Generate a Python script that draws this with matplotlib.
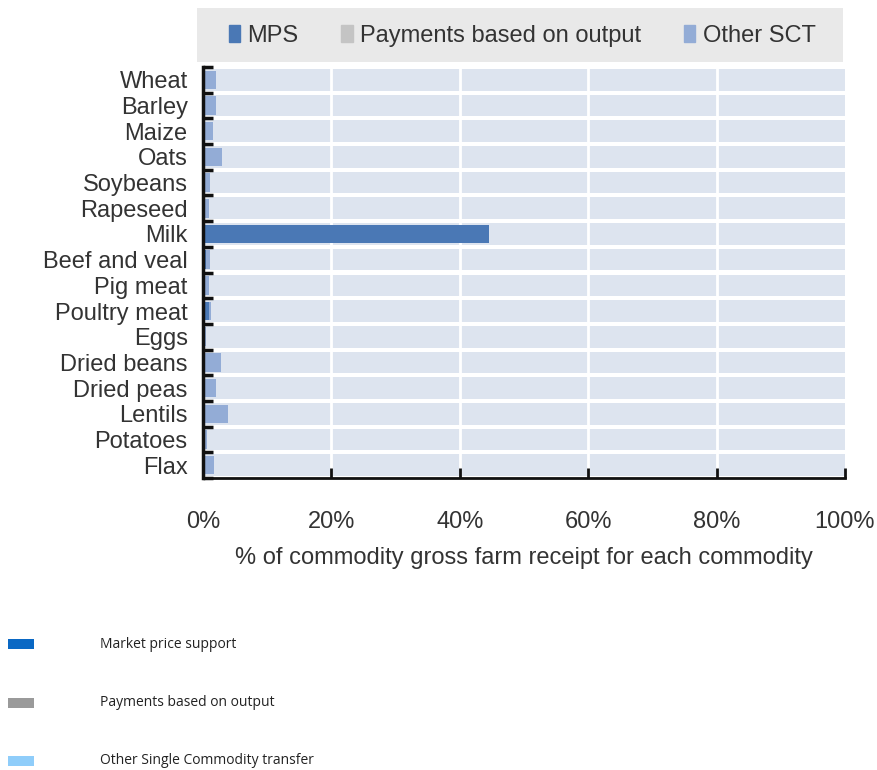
import numpy as np
import matplotlib.pyplot as plt
from matplotlib.patches import Patch, Rectangle

# Commodities, top to bottom
commodities = ['Wheat', 'Barley', 'Maize', 'Oats', 'Soybeans', 'Rapeseed', 'Milk',
               'Beef and veal', 'Pig meat', 'Poultry meat', 'Eggs', 'Dried beans',
               'Dried peas', 'Lentils', 'Potatoes', 'Flax']

# % of commodity gross farm receipts
mps = [0.0, 0.0, 0.0, 0.0, 0.0, 0.0, 44.5, 0.4, 0.0, 1.0, 0.0, 0.0, 0.0, 0.0, 0.0, 0.0]
output_payments = [0.0] * 16
other_sct = [2.1, 2.1, 1.5, 3.0, 1.1, 0.9, 0.0, 0.7, 0.9, 0.2, 0.4, 2.8, 2.0, 3.9, 0.6, 1.7]

x_ticks = [0, 20, 40, 60, 80, 100]

plt.rcParams['font.family'] = ['Liberation Sans Narrow', 'Liberation Sans', 'DejaVu Sans']

c_mps = '#4a78b5'
c_out = '#c4c4c4'
c_sct = '#93acd6'
c_band = '#dde4ef'

fig = plt.figure(figsize=(8.78, 7.70), dpi=100)
ax = fig.add_axes([203 / 878, 1 - 478 / 770, (845 - 203) / 878, (478 - 67) / 770])
ax.set_axisbelow(False)

y = np.arange(len(commodities))
mps = np.array(mps)
output_payments = np.array(output_payments)
other_sct = np.array(other_sct)

# light background bands across the full width
ax.barh(y, 100, height=0.84, color=c_band, zorder=1)
for xt in x_ticks[1:-1]:
    ax.axvline(xt, color='white', lw=2, zorder=1.5)

ax.barh(y, mps, height=0.72, color=c_mps, zorder=2, label='MPS')
ax.barh(y, output_payments, left=mps, height=0.72, color=c_out, zorder=2,
        label='Payments based on output')
ax.barh(y, other_sct, left=mps + output_payments, height=0.72, color=c_sct, zorder=2,
        label='Other SCT')

ax.set_xlim(0, 100)
ax.set_ylim(len(commodities) - 0.5, -0.5)
ax.set_yticks(y)
ax.set_yticklabels(commodities, fontsize=17)
ax.set_yticks(np.arange(len(commodities) + 1) - 0.5, minor=True)
ax.tick_params(axis='y', which='major', length=0, pad=11)
ax.tick_params(axis='y', which='minor', direction='in', length=7, width=2.5, color='#111111')
ax.set_xticks(x_ticks)
ax.set_xticklabels([f'{t}%' for t in x_ticks], fontsize=17)
ax.tick_params(axis='x', direction='in', length=7, width=2, color='#111111', pad=24)
ax.set_xlabel('% of commodity gross farm receipt for each commodity', fontsize=17,
              labelpad=10, color='#333333')
for lab in ax.get_xticklabels() + ax.get_yticklabels():
    lab.set_color('#333333')

for side in ['top', 'right']:
    ax.spines[side].set_visible(False)
ax.spines['left'].set_linewidth(2.5)
ax.spines['bottom'].set_linewidth(2)
ax.spines['left'].set_color('#111111')
ax.spines['bottom'].set_color('#111111')

# legend box at top
fig.add_artist(Rectangle((197 / 878, 1 - 62 / 770), (843 - 197) / 878, 54 / 770,
                         transform=fig.transFigure, facecolor='#e9e9e9',
                         edgecolor='none', zorder=0))
leg = fig.legend(handles=[Patch(color=c_mps, label='MPS'),
                          Patch(color=c_out, label='Payments based on output'),
                          Patch(color=c_sct, label='Other SCT')],
                 loc='center', bbox_to_anchor=(522 / 878, 1 - 36 / 770), ncol=3,
                 frameon=False, fontsize=17, handlelength=0.5, handleheight=0.7,
                 handletextpad=0.3, columnspacing=1.8, labelcolor='#333333')

# second legend drawn beneath the chart
key_labels = ['Market price support', 'Payments based on output',
              'Other Single Commodity transfer']
key_colors = ['#0a68c4', '#9a9a9a', '#8fcdfa']
key_y = [644, 703, 761]
for lab, col, yy in zip(key_labels, key_colors, key_y):
    fig.add_artist(Rectangle((8 / 878, 1 - (yy + 5) / 770), 26 / 878, 10 / 770,
                             transform=fig.transFigure, facecolor=col, edgecolor='none'))
    fig.text(100 / 878, 1 - yy / 770, lab, fontsize=10, va='center', ha='left',
             family=['Open Sans', 'DejaVu Sans'], color='#222222')

fig.savefig('out.png', dpi=100)
